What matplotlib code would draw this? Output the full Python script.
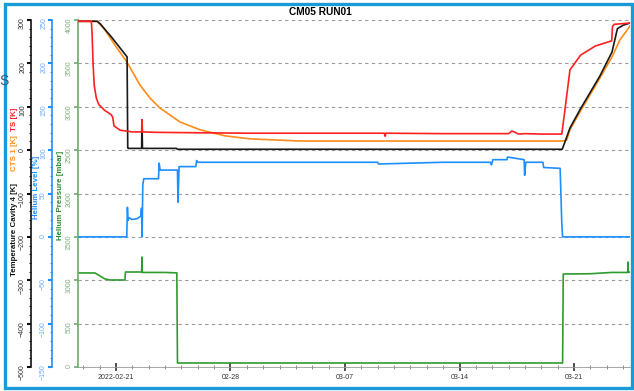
import pandas as pd
import matplotlib.pyplot as plt
import matplotlib.dates as mdates
from matplotlib.ticker import MultipleLocator
from matplotlib.patches import Rectangle

plt.rcParams['font.family'] = ['Liberation Sans', 'DejaVu Sans']

# time given as days after 2022-02-21 00:00
start = pd.Timestamp('2022-02-21')
t_min, t_max = -2.32, 31.42

black_days = [-2.32, -1.15, -0.95, -0.6, -0.3, 0.2, 0.68, 0.72, 0.76, 1.57, 1.59, 1.62,
              3.7, 3.75, 10, 20, 27.28, 27.75, 28.36, 28.97, 29.58, 30.32, 30.65, 31.0, 31.42]
black_temp = [297, 297, 291, 275, 262, 238, 215, 5, 4, 4, 70, 4,
              4, 2, 2, 2, 2, 51, 93, 132, 171, 226, 280, 288, 293]

orange_days = [-2.32, -1.15, -0.67, -0.06, 0.67, 1.47, 2.08, 2.69, 3.91, 5.13, 6.66, 8.19,
               11.25, 27.3, 27.55, 27.75, 28.36, 28.97, 29.58, 30.32, 30.8, 31.42]
orange_temp = [297, 297, 277, 242, 203, 150, 120, 97, 65, 47, 33, 26,
               21, 21, 23, 47, 88, 127, 166, 215, 254, 286]

red_days = [-2.32, -1.50, -1.45, -1.40, -1.33, -1.20, -1.05, -0.70, -0.30, -0.20, -0.12, 0.25,
            1.0, 1.57, 1.59, 1.62, 2.5, 5.0, 8.0, 12.0, 16.4, 16.45, 16.5, 20.0, 24.0, 24.2,
            24.4, 24.6, 25.0, 26.0, 27.25, 27.4, 27.75, 28.4, 29.3, 30.3, 30.35, 30.45, 31.42]
red_temp = [297, 297, 260, 200, 150, 120, 105, 92, 82, 76, 56, 46,
            42, 42, 70, 42, 41, 40, 39, 39, 39, 32, 39, 38, 38, 44,
            41, 37, 38, 37, 37, 80, 185, 219, 240, 252, 285, 290, 293]

level_days = [-2.32, 0.66, 0.70, 0.74, 0.80, 1.0, 1.3, 1.52, 1.56, 1.60, 1.64, 1.70, 2.60,
              2.64, 2.70, 3.76, 3.79, 3.86, 4.88, 4.93, 5.0, 12.0, 16.0, 16.05, 20.0, 22.9,
              22.95, 23.04, 23.9, 23.93, 24.95, 24.98, 25.05, 26.1, 26.14, 27.15, 27.25, 27.3, 31.42]
level_vals = [0, 0, 34, 19, 22, 20, 21, 24, 33, 0, 60, 67, 67,
              85, 77, 77, 40, 81, 81, 88, 86, 86, 86, 84, 86, 86,
              83, 89, 89, 92, 89, 71, 86, 86, 80, 79, 16, 0, 0]

press_days = [-2.32, -1.28, -0.98, -0.67, -0.37, 0.55, 0.58, 1.57, 1.59, 1.61, 3.0, 3.72,
              3.76, 10, 20, 27.30, 27.34, 29.0, 30.3, 31.28, 31.30, 31.32, 31.42]
press_vals = [1084, 1084, 1050, 1015, 1003, 1003, 1095, 1095, 1268, 1090, 1090, 1085,
              46, 46, 46, 46, 1072, 1075, 1090, 1090, 1210, 1090, 1095]

tick_days = [0, 7, 14, 21, 28]
tick_labels = ['2022-02-21', '02-28', '03-07', '03-14', '03-21']


def to_time(days):
    return start + pd.to_timedelta(days, unit='D')


W, H = 634, 391


def px(x, y):
    return x / W, 1 - y / H


fig = plt.figure(figsize=(W / 100, H / 100), dpi=100)
ax = fig.add_axes([78 / W, 1 - 367 / H, (630 - 78) / W, (367 - 20) / H])
ax_l = ax.twinx()
ax_t = ax.twinx()

green = '#2f9a2f'
blue = '#1e8fff'

# pressure (main axes)
ax.plot(to_time(press_days), press_vals, color=green, lw=1.2)
ax.set_ylim(0, 4000)
ax.yaxis.set_major_locator(MultipleLocator(500))
ax.yaxis.grid(True, linestyle=(0, (3, 3)), color='#9a9a9a', lw=0.8)
ax.tick_params(axis='y', colors='#6fa86f', labelcolor='#7fb07f', labelsize=5, length=3,
               width=1.2, labelrotation=90, pad=1)
ax.spines['left'].set_color('#6fa86f')
ax.spines['left'].set_linewidth(1.2)

# helium level
ax_l.plot(to_time(level_days), level_vals, color=blue, lw=1.2)
ax_l.set_ylim(-150, 250)
ax_l.yaxis.set_major_locator(MultipleLocator(50))
ax_l.yaxis.set_minor_locator(MultipleLocator(10))
ax_l.tick_params(axis='y', which='both', colors=blue, labelcolor='#6aaeff', labelsize=5,
                 labelrotation=90, pad=0.5)
ax_l.tick_params(axis='y', which='major', length=3, width=1.5)
ax_l.tick_params(axis='y', which='minor', length=1.8, width=0.7)

# temperatures
ax_t.plot(to_time(orange_days), orange_temp, color='#ff8c1a', lw=1.2)
ax_t.plot(to_time(black_days), black_temp, color='#1a1a1a', lw=1.2)
ax_t.plot(to_time(red_days), red_temp, color='#ff2020', lw=1.2)
ax_t.set_ylim(-500, 300)
ax_t.yaxis.set_major_locator(MultipleLocator(100))
ax_t.yaxis.set_minor_locator(MultipleLocator(20))
ax_t.tick_params(axis='y', which='both', colors='#111111', labelcolor='#333333', labelsize=5,
                 labelrotation=90, pad=0.5)
ax_t.tick_params(axis='y', which='major', length=3, width=1.5)
ax_t.tick_params(axis='y', which='minor', length=1.8, width=0.7)

for a, off, col in ((ax_t, 47, '#111111'), (ax_l, 26, blue)):
    a.yaxis.set_ticks_position('left')
    a.spines['left'].set_visible(True)
    a.spines['left'].set_position(('outward', off * 0.72))
    a.spines['left'].set_color(col)
    a.spines['left'].set_linewidth(1.2)
    for s in ('right', 'top', 'bottom'):
        a.spines[s].set_visible(False)

for s in ('right', 'top'):
    ax.spines[s].set_visible(False)
ax.spines['bottom'].set_color('#999999')
ax.spines['bottom'].set_linewidth(0.6)

ax.set_xlim(to_time(t_min), to_time(t_max))
ax.set_xticks(to_time(tick_days))
ax.set_xticklabels(tick_labels)
ax.xaxis.set_minor_locator(mdates.DayLocator())
ax.tick_params(axis='x', which='major', direction='inout', length=6, width=1.2,
               colors='#333333', labelsize=5, pad=2)
ax.tick_params(axis='x', which='minor', direction='inout', length=3, width=0.6, colors='#777777')

# axis labels
lab = dict(rotation=90, fontsize=5.7, fontweight='bold', ha='center', va='center')
fig.text(*px(14, 119), 'TS [K]', color='#ff2020', **lab)
fig.text(*px(14, 153), 'CTS 1 [K]', color='#ff8c1a', **lab)
fig.text(*px(14, 229), 'Temperature Cavity 4 [K]', color='#111111', **lab)
fig.text(*px(36, 187), 'Helium Level [%]', color=blue, **lab)
fig.text(*px(60, 195), 'Helium Pressure [mbar]', color='#2a8a2a', **lab)

fig.text(*px(320, 12), 'CM05 RUN01', fontsize=7.3, fontweight='bold', ha='center', va='center')

# screenshot frame
fig.add_artist(Rectangle(px(5, 388), (632 - 5) / W, (388 - 4) / H, transform=fig.transFigure,
                         fill=False, edgecolor='#1a9ad6', lw=2.4))
fig.text(*px(4, 81), 'S', fontsize=10, color='#4a5560', ha='center', va='center')

fig.savefig('out.png', dpi=100)
